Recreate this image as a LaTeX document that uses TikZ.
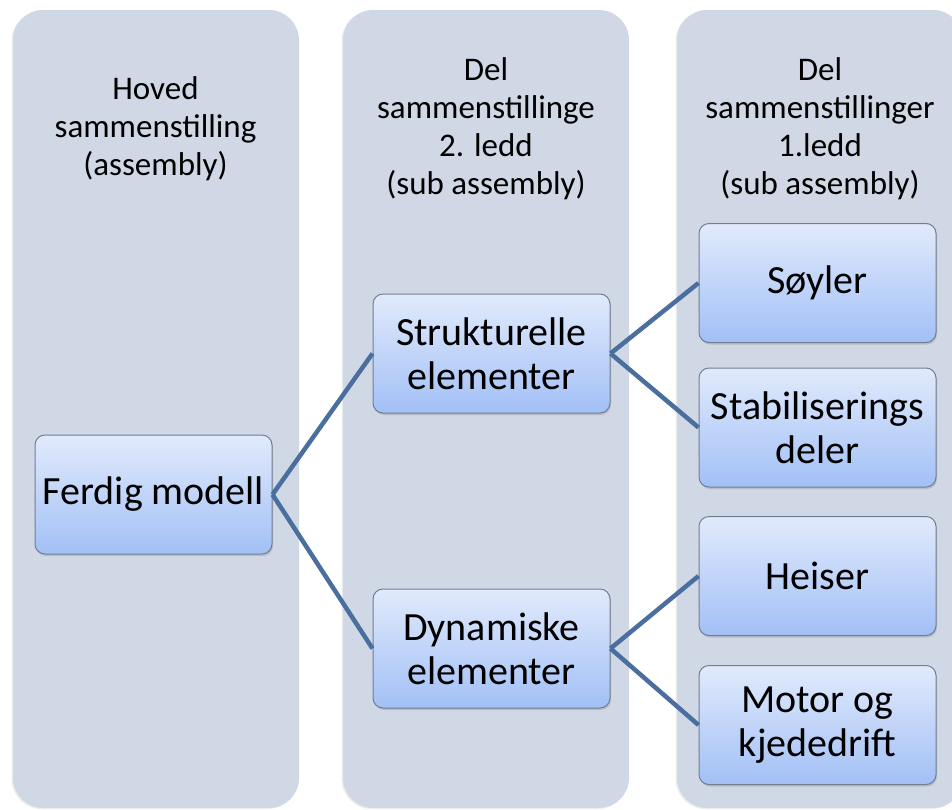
\documentclass[tikz,border=0pt]{standalone}
\usepackage{fontspec}
\setmainfont{Carlito}
\usetikzlibrary{shadows}
\definecolor{colfill}{RGB}{208,216,230}
\definecolor{boxtop}{RGB}{225,234,252}
\definecolor{boxbot}{RGB}{162,192,246}
\definecolor{boxline}{RGB}{112,126,146}
\definecolor{linkcol}{RGB}{74,110,158}
\tikzset{
  column/.style={fill=colfill, rounded corners=30pt,
    drop shadow={opacity=0.15, shadow xshift=-1.5pt, shadow yshift=-1pt}},
  head/.style={align=center, font=\fontsize{33}{38}\selectfont},
  part/.style={draw=boxline, line width=1pt, rounded corners=10pt,
    top color=boxtop, bottom color=boxbot,
    minimum width=237pt, minimum height=119pt, align=center,
    font=\fontsize{40}{44}\selectfont,
    drop shadow={opacity=0.3, shadow xshift=1pt, shadow yshift=-2pt}},
  link/.style={draw=linkcol, line width=4.5pt}
}
\begin{document}
\begin{tikzpicture}[x=1pt, y=-1pt]
\useasboundingbox (0,0) rectangle (952,809);

% columns
\foreach \x in {13,343,677}{
\path[column] (\x,10) rectangle ++(286,798);
}

\node [head] (h1) at (155.5,129) {Hoved\\sammenstilling\\(assembly)};
\node [head] (h2) at (486,129) {Del\\sammenstillinge\\2. ledd\\(sub assembly)};
\node [head] (h3) at (820,129) {Del\\sammenstillinger\\1.ledd\\(sub assembly)};

% parts
\node [part] (ferdig) at (153.5,494.5) {Ferdig modell};
\node [part] (strukt) at (491.5,353.5) {Strukturelle\\elementer};
\node [part] (dyn) at (491.5,648.5) {Dynamiske\\elementer};
\node [part] (soyler) at (817.5,283) {Søyler};
\node [part] (stab) at (817.5,427.5) {Stabiliserings\\deler};
\node [part] (heiser) at (817.5,576) {Heiser};
\node [part] (motor) at (817.5,725) {Motor og\\kjededrift};

\draw [link] (ferdig.east) -- (strukt.west);
\draw [link] (ferdig.east) -- (dyn.west);
\draw [link] (strukt.east) -- (soyler.west);
\draw [link] (strukt.east) -- (stab.west);
\draw [link] (dyn.east) -- (heiser.west);
\draw [link] (dyn.east) -- (motor.west);
\end{tikzpicture}
\end{document}
